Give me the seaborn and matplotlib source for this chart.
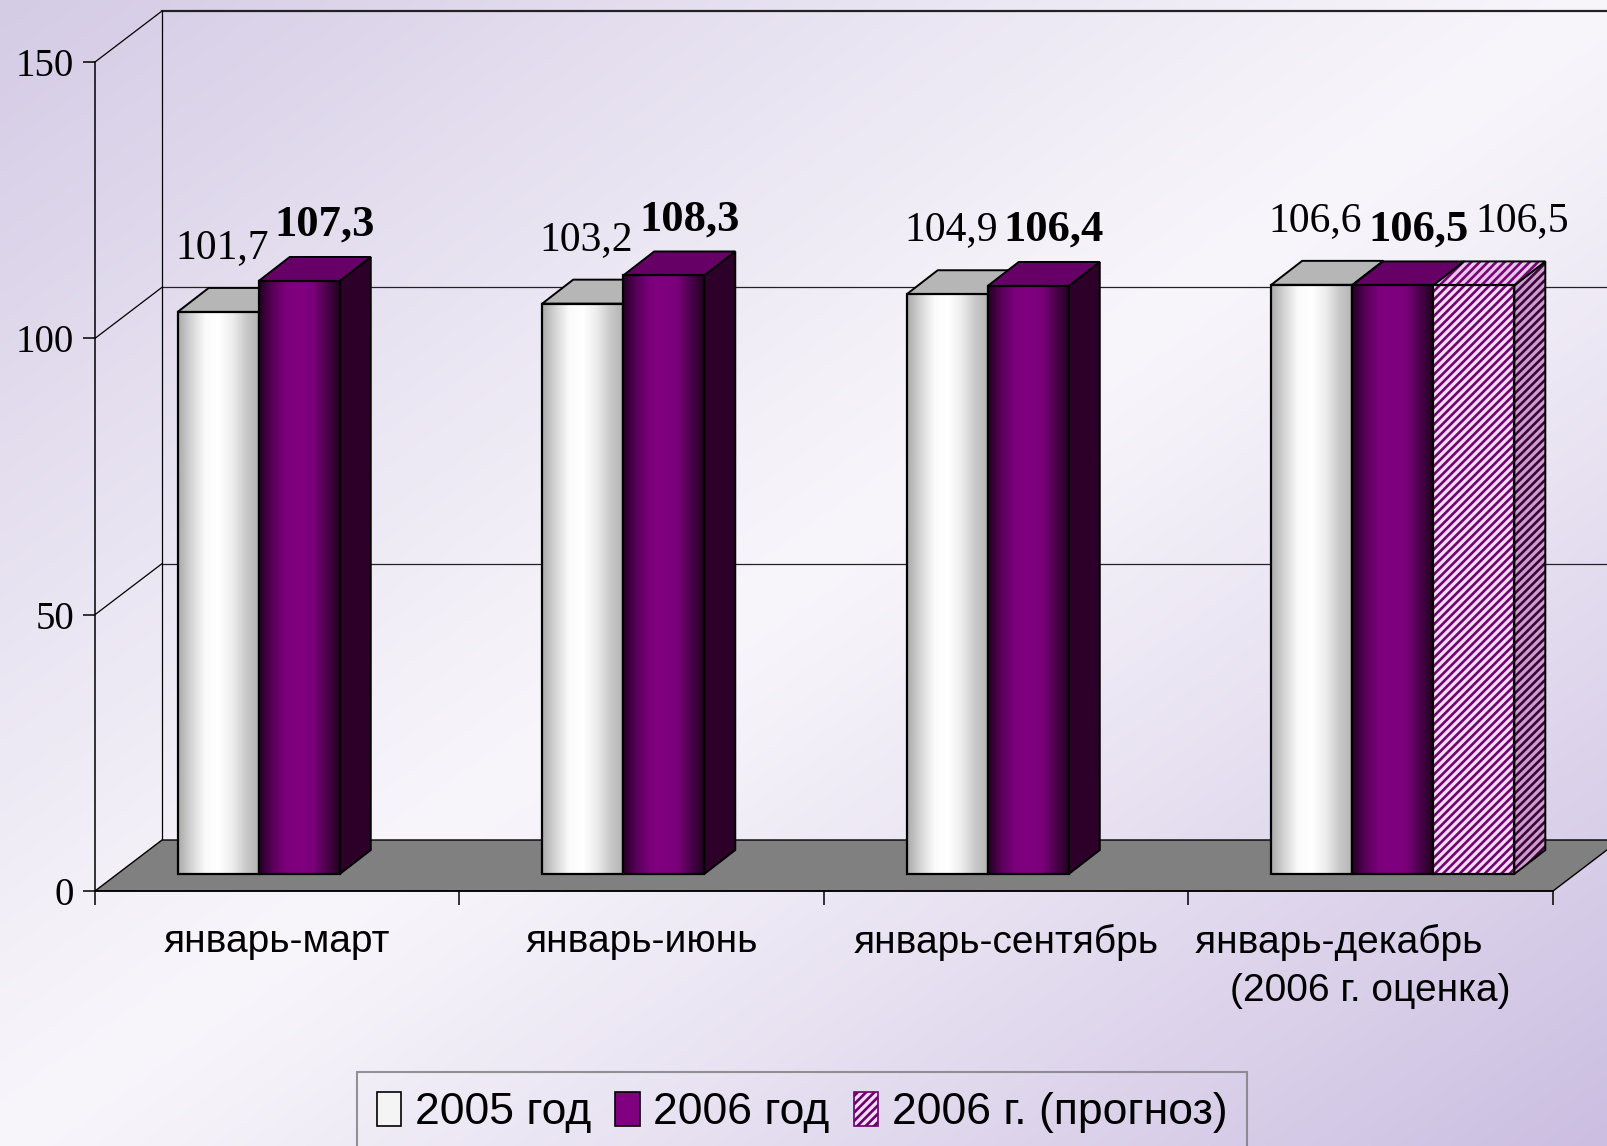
import numpy as np
import pandas as pd
import matplotlib
matplotlib.use("Agg")
import matplotlib.pyplot as plt
import seaborn as sns
from matplotlib.patches import Polygon, Rectangle, Patch
from matplotlib.colors import LinearSegmentedColormap

# ---------------- data ----------------
periods = ["январь-март", "январь-июнь", "январь-сентябрь", "январь-декабрь"]
period_labels = ["январь-март", "январь-июнь", "январь-сентябрь",
                 "январь-декабрь      \n(2006 г. оценка)"]
series = ["2005 год", "2006 год", "2006 г. (прогноз)"]
values_2005 = [101.7, 103.2, 104.9, 106.6]
values_2006 = [107.3, 108.3, 106.4, 106.5]
values_forecast = [np.nan, np.nan, np.nan, 106.5]
y_ticks = [0, 50, 100, 150]

series_values = {series[0]: values_2005, series[1]: values_2006, series[2]: values_forecast}
rows = []
for s_name, vals in series_values.items():
    for per, v in zip(periods, vals):
        rows.append({"period": per, "series": s_name, "value": v})
df = pd.DataFrame(rows).dropna()

# ---------------- style ----------------
plt.rcParams["font.family"] = ["Liberation Sans", "DejaVu Sans"]
SERIF = ["Liberation Serif", "DejaVu Serif"]
plt.rcParams["hatch.linewidth"] = 1.9

W_PX, H_PX, DPI = 1608, 1146, 100
fig = plt.figure(figsize=(W_PX / DPI, H_PX / DPI), dpi=DPI)

# background gradient
bg = fig.add_axes([0, 0, 1, 1], zorder=-10)
yy, xx = np.mgrid[0:1:300j, 0:1:400j]
s = (xx + yy) / 2
t = np.clip(np.abs(s - 0.5) * 2, 0, 1) ** 1.1
light = np.array([248, 246, 251]) / 255
lav_tl = np.array([212, 203, 229]) / 255
lav_br = np.array([203, 190, 225]) / 255
lav = np.where((s < 0.5)[..., None], lav_tl, lav_br)
img = light + (lav - light) * t[..., None]
bg.imshow(img, extent=[0, 1, 0, 1], aspect="auto", origin="upper", interpolation="bilinear")
bg.axis("off")

# main (front plane) axes
L, B = 95 / W_PX, (H_PX - 891) / H_PX
AW, AH = (1553 - 95) / W_PX, (891 - 62) / H_PX
ax = fig.add_axes([L, B, AW, AH])
ax.patch.set_alpha(0)

XMIN, XMAX, YMIN, YMAX = -0.5, 3.5, 0, 150


def px2dx(px):
    return px * (XMAX - XMIN) / (AW * W_PX)


def px2dy(px):
    return px * (YMAX - YMIN) / (AH * H_PX)


HATCH_FACE = "#f3def3"
palette = {series[0]: "#ffffff", series[1]: "#800080", series[2]: HATCH_FACE}
sns.barplot(data=df, x="period", y="value", hue="series", order=periods,
            hue_order=series, palette=palette, width=0.667, gap=0,
            errorbar=None, saturation=1, edgecolor="black", linewidth=1.6,
            legend=False, ax=ax)

# 3D geometry offsets
odx, ody = px2dx(22), px2dy(17)        # bar front plane relative to axis plane
ddx, ddy = px2dx(31), px2dy(24)        # bar depth
wdx, wdy = px2dx(67), px2dy(51)        # back wall relative to axis plane

# walls / floor
for v in y_ticks[1:]:
    ax.plot([XMIN, XMIN + wdx], [v, v + wdy], color="black", lw=0.9, zorder=1, clip_on=False)
    ax.plot([XMIN + wdx, XMAX + wdx + 1], [v + wdy, v + wdy], color="#222222",
            lw=1.6 if v == YMAX else 0.9, zorder=1, clip_on=False)
ax.plot([XMIN + wdx, XMIN + wdx], [wdy, YMAX + wdy], color="black", lw=0.9, zorder=1, clip_on=False)
floor = Polygon([[XMIN, 0], [XMAX, 0], [XMAX + wdx, wdy], [XMIN + wdx, wdy]],
                closed=True, facecolor="#808080", edgecolor="black", lw=1.0,
                zorder=1.5, clip_on=False)
ax.add_patch(floor)

# bar styles
grad_white = ["#a9a9a9", "#d6d6d6", "#fbfbfb", "#ffffff", "#ededed", "#c9c9c9", "#b3b3b3"]
grad_purple = ["#220022", "#5a005a", "#7c007c", "#800080", "#7a007a", "#4a004a", "#1e001e"]
top_col = {0: "#b6b6b6", 1: "#660066", 2: "#e8c8e8"}
side_col = {0: "#8a8a8a", 1: "#2c0029", 2: "#c8a0c8"}
label_dx = {0: -12, 1: 10, 2: 33}
label_gap = {0: 30, 1: 21, 2: 30}
label_size = {0: 30, 1: 32, 2: 30}

cmaps = {0: LinearSegmentedColormap.from_list("w", grad_white),
         1: LinearSegmentedColormap.from_list("p", grad_purple)}
slot_w = 0.667 / 3
bars = [p for p in list(ax.patches)
        if isinstance(p, Rectangle) and p is not floor and np.isfinite(p.get_height())]
for p in bars:
    x0, w, h = p.get_x(), p.get_width(), p.get_height()
    cx = x0 + w / 2
    cat = int(round(cx))
    slot = int(round((cx - cat) / slot_w)) + 1
    z = 3 + 0.1 * slot
    X0, Y0 = x0 + odx, ody
    p.set_x(X0)
    p.set_y(Y0)
    side = Polygon([[X0 + w, Y0], [X0 + w + ddx, Y0 + ddy], [X0 + w + ddx, Y0 + h + ddy], [X0 + w, Y0 + h]],
                   closed=True, facecolor=side_col[slot], edgecolor="black", lw=1.4, zorder=z)
    top = Polygon([[X0, Y0 + h], [X0 + w, Y0 + h], [X0 + w + ddx, Y0 + h + ddy], [X0 + ddx, Y0 + h + ddy]],
                  closed=True, facecolor=top_col[slot], edgecolor="black", lw=1.4, zorder=z + 0.01)
    if slot == 2:
        side.set_hatch("////")
        side.set_edgecolor("#3e003e")
        side.set_linewidth(0)
        top.set_hatch("////")
        top.set_edgecolor("#7a007a")
        top.set_linewidth(0)
        ax.add_patch(side)
        ax.add_patch(top)
        for poly, zz in ((side, z + 0.005), (top, z + 0.015)):
            ax.add_patch(Polygon(poly.get_xy(), closed=True, facecolor="none",
                                 edgecolor="black", lw=1.4, zorder=zz))
        p.set_facecolor(HATCH_FACE)
        p.set_edgecolor("#720072")
        p.set_hatch("////")
        p.set_linewidth(0)
        p.set_zorder(z + 0.02)
        ax.add_patch(Rectangle((X0, Y0), w, h, facecolor="none", edgecolor="black",
                               lw=1.6, zorder=z + 0.03))
    else:
        ax.add_patch(side)
        ax.add_patch(top)
        p.set_facecolor("none")
        p.set_zorder(z + 0.03)
        grad = np.linspace(0, 1, 256)[None, :]
        im = ax.imshow(grad, cmap=cmaps[slot], extent=[X0, X0 + w, Y0, Y0 + h],
                       aspect="auto", interpolation="bicubic", zorder=z + 0.02)
        im.set_clip_path(p)
    txt = f"{h:.1f}".replace(".", ",")
    ax.text(X0 + w / 2 + ddx / 2 + px2dx(label_dx[slot]),
            Y0 + h + ddy + px2dy(label_gap[slot]), txt,
            ha="center", va="baseline", fontsize=label_size[slot], family=SERIF,
            fontweight="bold" if slot == 1 else "normal", zorder=6, clip_on=False)

# axes styling
ax.set_xlim(XMIN, XMAX)
ax.set_ylim(YMIN, YMAX)
ax.set_xlabel("")
ax.set_ylabel("")
for sp in ("top", "right"):
    ax.spines[sp].set_visible(False)
for sp in ("left", "bottom"):
    ax.spines[sp].set_color("black")
    ax.spines[sp].set_linewidth(1.1)
    ax.spines[sp].set_zorder(2)
ax.set_xticks(range(len(periods)))
ax.set_xticklabels(period_labels)
for lbl in ax.get_xticklabels():
    lbl.set_linespacing(1.4)
ax.set_xticks([i - 0.5 for i in range(len(periods) + 1)], minor=True)
ax.tick_params(axis="x", which="major", length=0, pad=24, labelsize=28)
ax.tick_params(axis="x", which="minor", length=10, width=1.1, color="black")
ax.set_yticks(y_ticks)
ax.tick_params(axis="y", length=9, width=1.1, pad=6, labelsize=28, color="black")
for lbl in ax.get_yticklabels():
    lbl.set_family(SERIF)
ax.grid(False)

# legend
handles = [Patch(facecolor="#f4f4f4", edgecolor="black", lw=1.2),
           Patch(facecolor="#800080", edgecolor="black", lw=1.2),
           Patch(facecolor=HATCH_FACE, edgecolor="#6a006a", hatch="////", lw=1.2)]
leg = ax.legend(handles, series, loc="upper left",
                bbox_to_anchor=(357 / W_PX, 1 - 1072 / H_PX), bbox_transform=fig.transFigure,
                ncol=3, frameon=True, fancybox=False, edgecolor="#7a7a7a", facecolor="none",
                fontsize=32, handlelength=0.55, handleheight=0.8, handletextpad=0.3,
                columnspacing=0.55, borderpad=0.45, borderaxespad=0)
leg.get_frame().set_linewidth(1.5)

fig.savefig("out.png", dpi=DPI)
